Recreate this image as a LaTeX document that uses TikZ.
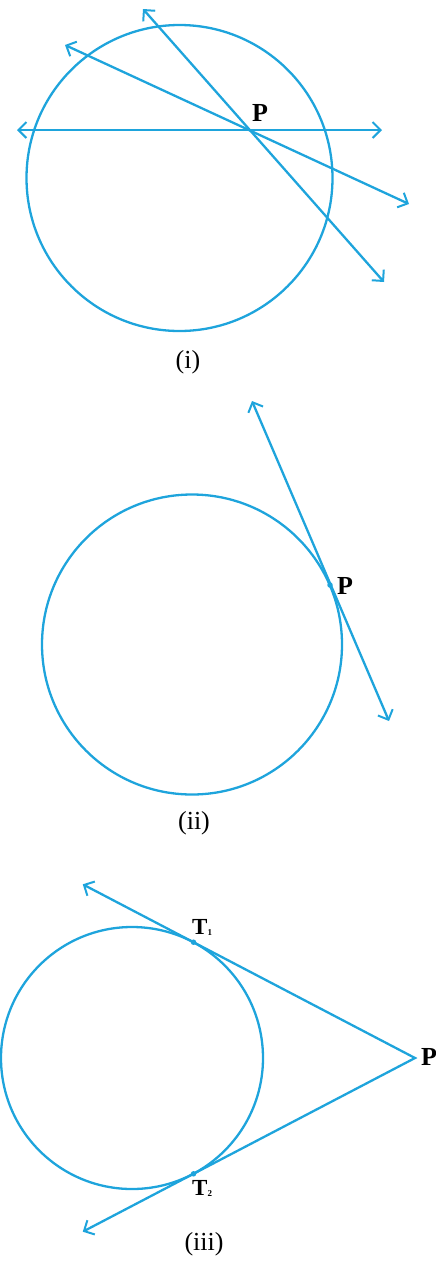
\documentclass[tikz,border=0pt]{standalone}
\usepackage{fontspec}
\setmainfont{Liberation Serif}
\usetikzlibrary{arrows.meta,calc}
\definecolor{geo}{RGB}{30,164,220}
\newcommand{\subidx}[1]{\raisebox{-1.5pt}{\fontsize{9}{9}\selectfont #1}}
\begin{document}
\begin{tikzpicture}[x=1pt,y=-1pt,
  ln/.style={draw=geo,line width=2.3pt},
  barb/.tip={Straight Barb[length=8pt,width=16pt,line width=2pt]},
  dbl/.style={ln,barb-barb},
  lbl/.style={font=\fontsize{26}{28}\selectfont\bfseries,inner sep=0pt},
  tlbl/.style={font=\fontsize{23}{25}\selectfont\bfseries,inner sep=0pt},
  figcap/.style={font=\fontsize{26}{28}\selectfont,inner sep=0pt},
  pt/.style={fill=geo,circle,inner sep=0pt,minimum size=5.5pt}]
\useasboundingbox (0,0) rectangle (436,1270);
% ---------- (i)
\coordinate (C1) at (179.5,178);
\draw[ln] (C1) circle[radius=153pt];
\coordinate (P1) at (248,130);
\coordinate (a1) at (17,130);
\coordinate (b1) at (382,130);
\coordinate (a2) at (65,45);
\coordinate (b2) at (409,204);
\coordinate (a3) at (143,9);
\coordinate (b3) at (384,282);
\draw[dbl] (a1) -- (b1);
\draw[dbl] (a2) -- (b2);
\draw[dbl] (a3) -- (b3);
\node[lbl,anchor=base west] (LP1) at (252,121) {P};
\node[figcap,anchor=base] (cap1) at (188,368) {(i)};
% ---------- (ii)
\coordinate (C2) at (192,644.5);
\draw[ln] (C2) circle[radius=150pt];
\node[pt] (P2) at (330,585) {};
\coordinate (a4) at (252,401);
\coordinate (b4) at (389,721);
\draw[dbl] (a4) -- (b4);
\node[lbl,anchor=base west] (LP2) at (337,594) {P};
\node[figcap,anchor=base] (cap2) at (194,829) {(ii)};
% ---------- (iii)
\coordinate (C3) at (132,1058);
\draw[ln] (C3) circle[radius=131pt];
\coordinate (P3) at (415,1058);
\node[pt] (T1) at (193.5,942.2) {};
\node[pt] (T2) at (193.5,1173.8) {};
\coordinate (e1) at ($(P3)!1.5!(T1)$);
\coordinate (e2) at ($(P3)!1.5!(T2)$);
\draw[dbl,line join=miter] (e1) -- (T1.center) -- (P3) -- (T2.center) -- (e2);
\node[lbl,anchor=base west] (LP3) at (421,1065) {P};
\node[tlbl,anchor=base west] (LT1) at (192,934) {T\subidx{1}};
\node[tlbl,anchor=base west] (LT2) at (192,1195) {T\subidx{2}};
\node[figcap,anchor=base] (cap3) at (204,1250) {(iii)};
\end{tikzpicture}
\end{document}
